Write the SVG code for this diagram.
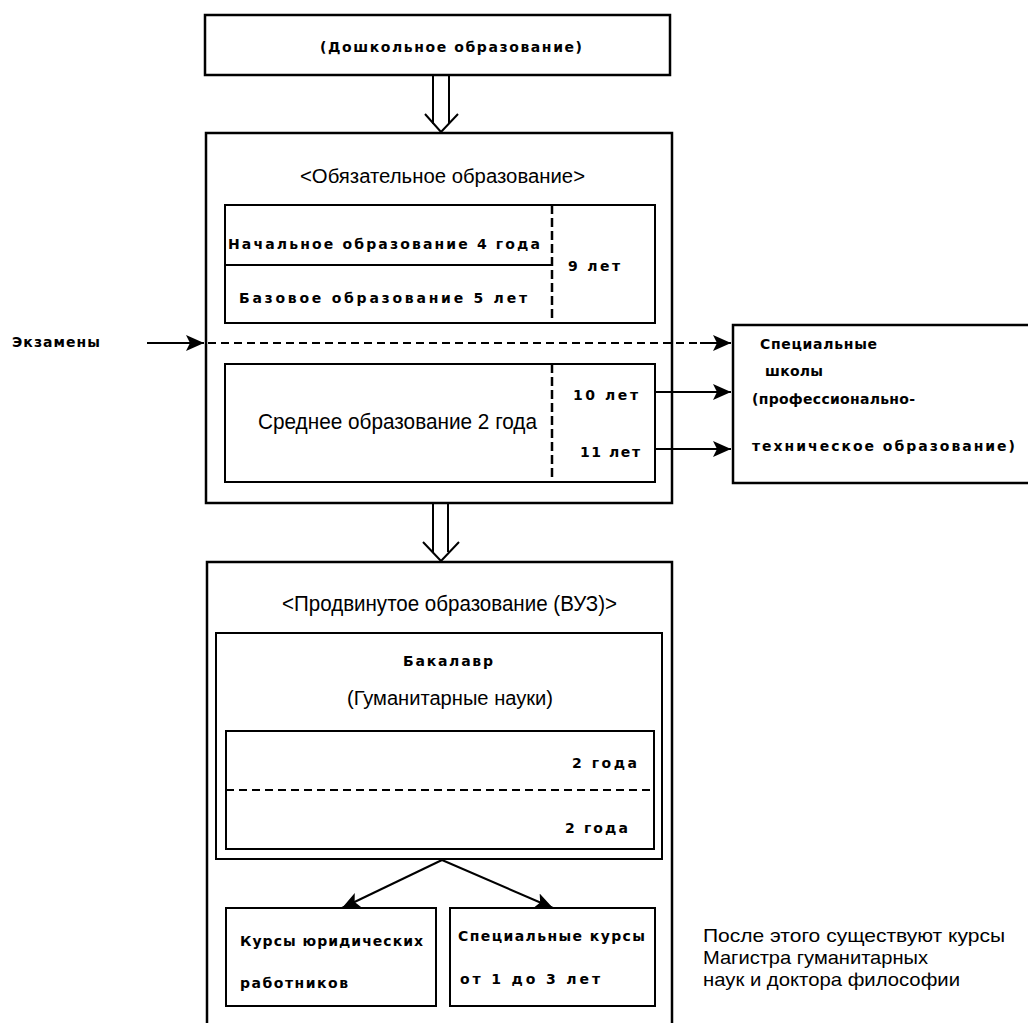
<svg xmlns="http://www.w3.org/2000/svg" width="1028" height="1023" viewBox="0 0 1028 1023">
<style>
  .box{fill:none;stroke:#000;stroke-width:2.5}
  .inner{fill:none;stroke:#000;stroke-width:2}
  .ln{fill:none;stroke:#000;stroke-width:2}
  .dv{fill:none;stroke:#000;stroke-width:2.5;stroke-dasharray:9 4}
  .dh{fill:none;stroke:#000;stroke-width:2;stroke-dasharray:8 5}
  .tw{font-family:"DejaVu Sans","Liberation Sans",sans-serif;font-weight:bold;font-size:14px;fill:#000}
  .cd{font-family:"Liberation Sans","DejaVu Sans",sans-serif;font-size:22px;fill:#000}
  .cds{font-family:"Liberation Sans","DejaVu Sans",sans-serif;font-size:20px;fill:#000}
  .nt{font-family:"Liberation Sans","DejaVu Sans",sans-serif;font-size:19px;fill:#000}
</style>
<defs>
  <marker id="ah" viewBox="0 0 18 16" refX="18" refY="8" markerWidth="18" markerHeight="16" markerUnits="userSpaceOnUse" orient="auto">
    <path d="M0,0 L18,8 L0,16 L4,8 Z" fill="#000"/>
  </marker>
</defs>
<rect width="1028" height="1023" fill="#fff"/>

<g id="preschool">
  <rect class="box" x="205" y="15" width="465" height="60"/>
  <text class="tw" x="320" y="52" textLength="262">(Дошкольное образование)</text>
</g>

<g id="compulsory">
  <rect class="box" x="206" y="133" width="466" height="370"/>
  <text class="cds" x="300" y="183" textLength="285" lengthAdjust="spacingAndGlyphs">&lt;Обязательное образование&gt;</text>
</g>

<g id="primary-basic">
  <rect class="inner" x="225" y="205" width="430" height="118"/>
  <line class="ln" x1="225" y1="265" x2="552" y2="265"/>
  <line class="dv" x1="552" y1="205" x2="552" y2="323"/>
  <text class="tw" x="228" y="249" textLength="312">Начальное образование 4 года</text>
  <text class="tw" x="239" y="303" textLength="288">Базовое образование 5 лет</text>
  <text class="tw" x="568" y="271" textLength="52">9 лет</text>
</g>

<g id="exams">
  <text class="tw" x="12" y="347" textLength="88">Экзамены</text>
</g>

<g id="secondary">
  <rect class="inner" x="225" y="364" width="430" height="118"/>
  <line class="dv" x1="552" y1="364" x2="552" y2="482"/>
  <text class="cd" x="258" y="429" textLength="279" lengthAdjust="spacingAndGlyphs">Среднее образование 2 года</text>
  <text class="tw" x="573" y="400" textLength="65">10 лет</text>
  <text class="tw" x="580" y="457" textLength="60">11 лет</text>
</g>

<g id="special-schools">
  <path class="box" d="M1034,325 H733 V483 H1034"/>
  <text class="tw" x="760" y="349" textLength="117">Специальные</text>
  <text class="tw" x="765" y="376" textLength="58">школы</text>
  <text class="tw" x="752" y="404" textLength="163">(профессионально-</text>
  <text class="tw" x="752" y="451" textLength="263">техническое образование)</text>
</g>

<g id="university">
  <path class="box" d="M207,1030 V562 H672 V1030"/>
  <text class="cd" x="282" y="611" textLength="335" lengthAdjust="spacingAndGlyphs">&lt;Продвинутое образование (ВУЗ)&gt;</text>
</g>

<g id="bachelor">
  <rect class="inner" x="216" y="633" width="446" height="226"/>
  <text class="tw" x="403" y="666" textLength="90">Бакалавр</text>
  <text class="cds" x="347" y="705" textLength="206" lengthAdjust="spacingAndGlyphs">(Гуманитарные науки)</text>
</g>

<g id="bachelor-years">
  <rect class="inner" x="226" y="731" width="428" height="118"/>
  <line class="dh" x1="226" y1="790" x2="654" y2="790"/>
  <text class="tw" x="572" y="768" textLength="65">2 года</text>
  <text class="tw" x="565" y="833" textLength="63">2 года</text>
</g>

<g id="law-courses">
  <rect class="inner" x="226" y="908" width="210" height="98"/>
  <text class="tw" x="240" y="946" textLength="183">Курсы юридических</text>
  <text class="tw" x="240" y="988" textLength="108">работников</text>
</g>

<g id="special-courses">
  <rect class="inner" x="450" y="908" width="205" height="98"/>
  <text class="tw" x="458" y="941" textLength="187">Специальные курсы</text>
  <text class="tw" x="460" y="984" textLength="140">от 1 до 3 лет</text>
</g>

<g id="note">
  <text class="nt" x="703" y="942" textLength="302" lengthAdjust="spacingAndGlyphs">После этого существуют курсы</text>
  <text class="nt" x="703" y="964" textLength="225" lengthAdjust="spacingAndGlyphs">Магистра гуманитарных</text>
  <text class="nt" x="703" y="986" textLength="257" lengthAdjust="spacingAndGlyphs">наук и доктора философии</text>
</g>

<g id="connectors">
  <line class="ln" x1="433" y1="75" x2="433" y2="124"/>
  <line class="ln" x1="449" y1="75" x2="449" y2="124"/>
  <polyline class="ln" points="425,114 441,132 458,114"/>
  <line class="ln" x1="433" y1="503" x2="433" y2="552"/>
  <line class="ln" x1="448" y1="503" x2="448" y2="552"/>
  <polyline class="ln" points="423,542 441,561 459,542"/>
  <line class="ln" x1="147" y1="343" x2="204" y2="343" marker-end="url(#ah)"/>
  <line class="dh" x1="208" y1="343" x2="706" y2="343"/>
  <line class="ln" x1="700" y1="343" x2="731" y2="343" marker-end="url(#ah)"/>
  <line class="ln" x1="655" y1="392" x2="731" y2="392" marker-end="url(#ah)"/>
  <line class="ln" x1="655" y1="449" x2="731" y2="449" marker-end="url(#ah)"/>
  <line class="ln" x1="442" y1="860" x2="342" y2="908" marker-end="url(#ah)"/>
  <line class="ln" x1="442" y1="860" x2="553" y2="908" marker-end="url(#ah)"/>
</g>
</svg>
